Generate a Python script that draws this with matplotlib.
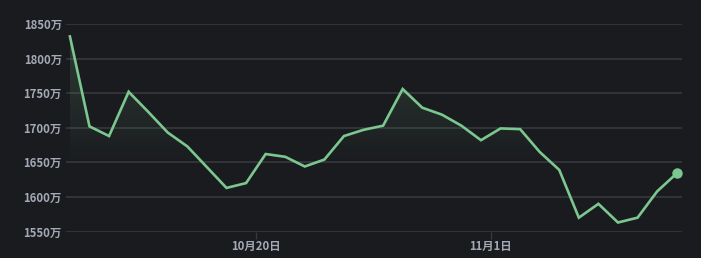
import matplotlib
matplotlib.use("Agg")
import matplotlib.pyplot as plt
import numpy as np
import pandas as pd
from matplotlib.colors import LinearSegmentedColormap
from matplotlib.patches import Polygon

plt.rcParams['font.family'] = ['Noto Sans CJK SC', 'DejaVu Sans']

dates = pd.date_range("2024-10-10 12:00", periods=32, freq="D")
values = [1832, 1702, 1688, 1752, 1723, 1693, 1673, 1643, 1613, 1620,
          1662, 1658, 1644, 1654, 1688, 1697, 1703, 1756, 1729, 1719,
          1703, 1682, 1699, 1698, 1665, 1639, 1570, 1590, 1563, 1570,
          1608, 1634]
y_ticks = [1550, 1600, 1650, 1700, 1750, 1800, 1850]
y_tick_labels = [f"{v}万" for v in y_ticks]
x_tick_dates = [pd.Timestamp("2024-10-20"), pd.Timestamp("2024-11-01")]
x_tick_labels = ["10月20日", "11月1日"]

BG = "#1a1b1f"
GRID = "#37393e"
TEXT = "#a3aab5"
LINE = "#7cc790"

fig = plt.figure(figsize=(7.01, 2.58), dpi=100, facecolor=BG)
ax = fig.add_axes([66/701, (258-231.5)/258, (682-66)/701, (231.5-24)/258])
ax.set_facecolor(BG)

x = matplotlib.dates.date2num(dates)
step = x[1] - x[0]
ax.set_xlim(x[0] - 0.2*step, x[-1] + 0.27*step)
ax.set_ylim(1550, 1850)

# gradient fill under line
ymin, ymax = 1550, max(values)
cmap = LinearSegmentedColormap.from_list(
    "g", [(0.486, 0.78, 0.565, 0.0), (0.486, 0.78, 0.565, 0.0),
          (0.486, 0.78, 0.565, 0.10), (0.486, 0.78, 0.565, 0.2)])
grad = np.linspace(0, 1, 256).reshape(-1, 1)
im = ax.imshow(grad, aspect="auto", cmap=cmap, origin="lower",
               extent=[x[0], x[-1], ymin, ymax], zorder=1)
verts = [(x[0], ymin)] + list(zip(x, values)) + [(x[-1], ymin)]
poly = Polygon(verts, closed=True, facecolor="none", edgecolor="none")
ax.add_patch(poly)
im.set_clip_path(poly)

ax.plot(x, values, color=LINE, lw=1.9, zorder=3, solid_joinstyle="miter")
ax.plot([x[-1]], [values[-1]], "o", color=LINE, ms=6.5, zorder=4)

ax.set_yticks(y_ticks)
ax.set_yticklabels(y_tick_labels)
ax.set_xticks(matplotlib.dates.date2num(x_tick_dates))
ax.set_xticklabels(x_tick_labels)
ax.grid(axis="y", color=GRID, lw=1.2)
ax.tick_params(axis="y", length=0, pad=3, colors=TEXT, labelsize=8.2)
ax.tick_params(axis="x", length=5, width=1, color=GRID, pad=1, colors=TEXT, labelsize=8.2)
for lbl in ax.get_xticklabels() + ax.get_yticklabels():
    lbl.set_color(TEXT)
    lbl.set_fontweight("bold")
for s in ax.spines.values():
    s.set_visible(False)
ax.set_axisbelow(True)

fig.savefig("out.png", dpi=100, facecolor=BG)
